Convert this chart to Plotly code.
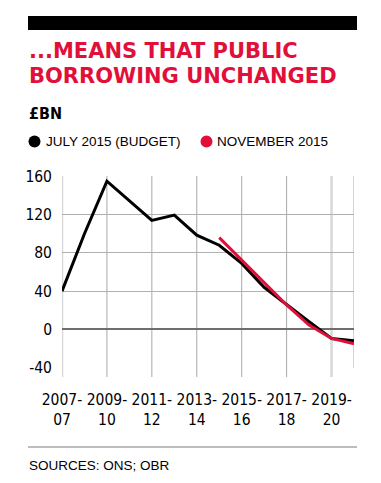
import plotly.graph_objects as go

years = ["2007-08", "2008-09", "2009-10", "2010-11", "2011-12", "2012-13", "2013-14",
         "2014-15", "2015-16", "2016-17", "2017-18", "2018-19", "2019-20", "2020-21"]
july_2015 = [40, 100, 155, 135, 114, 119.5, 98.5, 88, 69, 44, 25.5, 8, -9.5, -12]
nov_2015 = [None, None, None, None, None, None, None, 96, 72.5, 49, 25.5, 4.5, -9.5, -15]
tick_years = ["2007-08", "2009-10", "2011-12", "2013-14", "2015-16", "2017-18", "2019-20"]
tick_labels = ["2007-<br>07", "2009-<br>10", "2011-<br>12", "2013-<br>14",
               "2015-<br>16", "2017-<br>18", "2019-<br>20"]
light_grid_years = ["2007-08", "2019-20"]
y_ticks = [-40, 0, 40, 80, 120, 160]
y_tick_labels = ["-40", "0", "40", "80", "120", "160"]

RED = "#e0103a"
NARROW = "DejaVu Sans Condensed, Liberation Sans Narrow, sans-serif"
LIGHT = "Liberation Sans, Arial, sans-serif"

# page body has an 8px margin; lay the figure out so the final picture matches
OFF = 8
W, H = 381 - OFF, 483 - OFF
L, R, T, B = 62 - OFF, 27, 176 - OFF, 115
PW, PH = W - L - R, H - T - B

xi = list(range(len(years)))


def px(x):
    return (x - OFF - L) / PW


def py(y):
    return (H - B - (y - OFF)) / PH


fig = go.Figure()
fig.add_trace(go.Scatter(x=xi, y=july_2015, mode="lines", name="JULY 2015 (BUDGET)",
                         line=dict(color="black", width=3), showlegend=False))
fig.add_trace(go.Scatter(x=xi, y=nov_2015, mode="lines", name="NOVEMBER 2015",
                         line=dict(color=RED, width=3), showlegend=False))

shapes = [
    dict(type="rect", xref="paper", yref="paper", x0=px(28), x1=px(357), y0=py(30), y1=py(16),
         fillcolor="black", line=dict(width=0)),
    dict(type="line", xref="paper", yref="paper", x0=px(28), x1=px(357), y0=py(447), y1=py(447),
         line=dict(color="#bdbdbd", width=2)),
    dict(type="line", xref="x", yref="paper", x0=xi[-1], x1=xi[-1], y0=0, y1=1,
         line=dict(color="#a8a8a8", width=1), layer="below"),
]
for t in tick_years:
    i = years.index(t)
    light = t in light_grid_years
    shapes.append(dict(type="line", xref="x", yref="paper", x0=i, x1=i, y0=-0.047, y1=1,
                       line=dict(color="#d8d8d8" if light else "#a8a8a8",
                                 width=2.5 if light else 1), layer="below"))
shapes += [
    dict(type="circle", xref="paper", yref="paper", x0=px(28.5), x1=px(40.5),
         y0=py(147.5), y1=py(135.5), fillcolor="black", line=dict(width=0)),
    dict(type="circle", xref="paper", yref="paper", x0=px(200.5), x1=px(212.5),
         y0=py(147.5), y1=py(135.5), fillcolor=RED, line=dict(width=0)),
]

annotations = [
    dict(text="<b>...MEANS THAT PUBLIC</b>", x=px(27), y=py(51), xanchor="left", yanchor="middle",
         font=dict(family="DejaVu Sans", size=21, color=RED)),
    dict(text="<b>BORROWING UNCHANGED</b>", x=px(27), y=py(76), xanchor="left", yanchor="middle",
         font=dict(family="DejaVu Sans", size=21, color=RED)),
    dict(text="<b>£BN</b>", x=px(27), y=py(113), xanchor="left", yanchor="middle",
         font=dict(family=NARROW, size=16, color="black")),
    dict(text="JULY 2015 (BUDGET)", x=px(44), y=py(141.5), xanchor="left", yanchor="middle",
         font=dict(family=LIGHT, size=13.5, color="black")),
    dict(text="NOVEMBER 2015", x=px(215), y=py(141.5), xanchor="left", yanchor="middle",
         font=dict(family=LIGHT, size=13.5, color="black")),
    dict(text="SOURCES: ONS; OBR", x=px(27), y=py(465), xanchor="left", yanchor="middle",
         font=dict(family=LIGHT, size=13.5, color="black")),
]
for a in annotations:
    a.update(xref="paper", yref="paper", showarrow=False)

fig.update_layout(
    width=W, height=H,
    margin=dict(l=L, r=R, t=T, b=B, autoexpand=False),
    paper_bgcolor="white", plot_bgcolor="white",
    shapes=shapes, annotations=annotations,
    showlegend=False,
    xaxis=dict(range=[0, len(years) - 1], automargin=False, tickangle=0,
               tickvals=[years.index(t) for t in tick_years], ticktext=tick_labels,
               showgrid=False, ticks="", ticklabelstandoff=20,
               zeroline=False, showline=False,
               tickfont=dict(family=NARROW, size=15.5, color="black")),
    yaxis=dict(range=[-40.4, 160.4], tickvals=y_ticks, ticktext=y_tick_labels,
               automargin=False,
               showgrid=True, gridcolor="#b0b0b0", gridwidth=1,
               zeroline=True, zerolinecolor="#6e6e6e", zerolinewidth=1.5,
               showline=False, ticks="", ticklabelstandoff=9,
               tickfont=dict(family=NARROW, size=15.5, color="black")),
)

fig.write_html("out.html")
